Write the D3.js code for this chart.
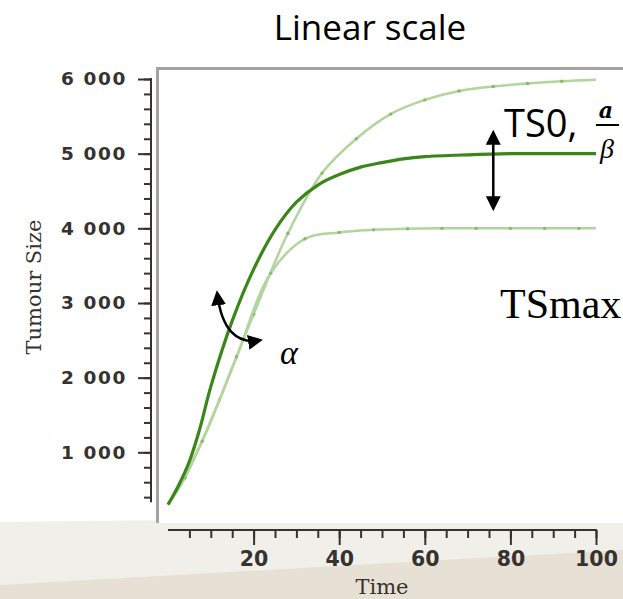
<!DOCTYPE html>
<html>
<head>
<meta charset="utf-8">
<script src="https://cdn.jsdelivr.net/npm/d3@7"></script>
<style>
  body { margin: 0; background: #fff; }
  svg { display: block; }
</style>
</head>
<body>
<svg id="chart"></svg>
<script>
// data
const darkTimes = [0, 2.5, 5, 7.5, 10, 15, 20, 25, 30, 35, 40, 45, 50, 55, 60, 70, 80, 90, 100];
const darkSizes = [300, 560, 880, 1330, 1880, 2760, 3450, 3980, 4350, 4580, 4720, 4820, 4880, 4930, 4960, 4985, 5000, 5000, 5000];

const highTimes = [0, 4, 12, 20, 28, 36, 44, 52, 60, 68, 76, 84, 92, 100];
const highSizes = [300, 660, 1700, 2850, 3930, 4740, 5200, 5530, 5720, 5840, 5900, 5940, 5970, 5990];

const lowTimes = [0, 8, 16, 24, 32, 40, 48, 56, 64, 72, 80, 88, 96, 100];
const lowSizes = [300, 1150, 2280, 3400, 3860, 3945, 3980, 3995, 4000, 4000, 4000, 4000, 4000, 4000];

const yMajorTicks = [1000, 2000, 3000, 4000, 5000, 6000];
const xMajorTicks = [20, 40, 60, 80, 100];

const width = 623, height = 599;

const svg = d3.select("#chart")
    .attr("width", width)
    .attr("height", height)
    .attr("viewBox", [0, 0, width, height]);

// background (slide-like bottom band)
svg.append("rect").attr("width", width).attr("height", height).attr("fill", "#ffffff");
svg.append("polygon").attr("points", "0,522 623,515 623,599 0,599").attr("fill", "#f1efea");
svg.append("polygon").attr("points", "0,585 623,550 623,599 0,599").attr("fill", "#e6e1d4");

// plot panel
svg.append("rect").attr("x", 157).attr("y", 68).attr("width", width - 157).attr("height", 455).attr("fill", "#fff");
svg.append("path").attr("d", "M157.5,523V68.5H623").attr("fill", "none").attr("stroke", "#a3a3a3").attr("stroke-width", 3);

// scales
const x_scale = d3.scaleLinear().domain([0, 100]).range([168, 596]);
const y_scale = d3.scaleLinear().domain([0, 6000]).range([527, 79]);

const fmt = d3.formatLocale({ decimal: ".", thousands: " ", grouping: [3], currency: ["", ""] }).format(",");
const axisColor = "#36322e";

// y axis
const gY = svg.append("g").attr("transform", "translate(151,0)");
gY.append("g")
    .call(d3.axisLeft(y_scale).tickValues(d3.range(400, 6001, 200)).tickSize(7).tickFormat(""))
    .call(g => g.select(".domain").remove());
gY.append("g")
    .call(d3.axisLeft(y_scale).tickValues(yMajorTicks).tickSize(13).tickPadding(11).tickFormat(fmt))
    .call(g => g.select(".domain").remove());
gY.append("line")
    .attr("y1", y_scale(6000) - 1).attr("y2", y_scale(330))
    .attr("stroke", axisColor).attr("stroke-width", 2);
gY.selectAll(".tick line").attr("stroke", axisColor).attr("stroke-width", 2);
gY.selectAll("text")
    .attr("fill", axisColor)
    .style("font-family", "DejaVu Sans")
    .style("font-weight", "bold")
    .style("font-size", "18.5px")
    .style("letter-spacing", "1.6px");

// x axis
const gX = svg.append("g").attr("transform", "translate(0,530)");
gX.append("g")
    .call(d3.axisBottom(x_scale).tickValues(d3.range(5, 101, 5)).tickSize(8).tickFormat(""))
    .call(g => g.select(".domain").remove());
gX.append("g")
    .call(d3.axisBottom(x_scale).tickValues(xMajorTicks).tickSize(15).tickPadding(6))
    .call(g => g.select(".domain").remove());
gX.append("line")
    .attr("x1", x_scale(0)).attr("x2", x_scale(100) + 1)
    .attr("stroke", axisColor).attr("stroke-width", 2);
gX.selectAll(".tick line").attr("stroke", axisColor).attr("stroke-width", 2);
gX.selectAll("text")
    .attr("fill", axisColor)
    .style("font-family", "DejaVu Sans")
    .style("font-weight", "bold")
    .style("font-size", "20.5px");

// axis titles
svg.append("text")
    .attr("x", 382).attr("y", 594)
    .attr("text-anchor", "middle")
    .attr("fill", axisColor)
    .style("font-family", "DejaVu Serif")
    .style("font-size", "21px")
    .text("Time");
svg.append("text")
    .attr("transform", "translate(41,287) rotate(-90)")
    .attr("text-anchor", "middle")
    .attr("fill", axisColor)
    .style("font-family", "DejaVu Serif")
    .style("font-size", "21px")
    .text("Tumour Size");

// curves
const line = d3.line()
    .x(d => x_scale(d[0]))
    .y(d => y_scale(d[1]))
    .curve(d3.curveCatmullRom.alpha(0.5));

const light = [
    d3.zip(highTimes, highSizes),
    d3.zip(lowTimes, lowSizes)
];
light.forEach(pts => {
    svg.append("path")
        .attr("d", line(pts))
        .attr("fill", "none")
        .attr("stroke", "#b2d59d")
        .attr("stroke-width", 2.5);
    svg.append("g").selectAll("circle")
        .data(pts.slice(1, -1))
        .join("circle")
        .attr("cx", d => x_scale(d[0]))
        .attr("cy", d => y_scale(d[1]))
        .attr("r", 1.7)
        .attr("fill", "#86b96a");
});

svg.append("path")
    .attr("d", line(d3.zip(darkTimes, darkSizes)))
    .attr("fill", "none")
    .attr("stroke", "#3b8619")
    .attr("stroke-width", 3.2);

// annotations
const defs = svg.append("defs");
defs.append("marker")
    .attr("id", "head")
    .attr("viewBox", "0 0 10 10")
    .attr("refX", 8).attr("refY", 5)
    .attr("markerWidth", 6).attr("markerHeight", 6)
    .attr("markerUnits", "strokeWidth")
    .attr("orient", "auto-start-reverse")
    .append("path").attr("d", "M0,0L10,5L0,10z").attr("fill", "#000");

svg.append("line")
    .attr("x1", x_scale(76)).attr("x2", x_scale(76))
    .attr("y1", y_scale(5280)).attr("y2", y_scale(4270))
    .attr("stroke", "#000").attr("stroke-width", 2.5)
    .attr("marker-start", "url(#head)").attr("marker-end", "url(#head)");

svg.append("path")
    .attr("d", `M${x_scale(11.5)},${y_scale(3130)} Q${x_scale(13)},${y_scale(2420)} ${x_scale(21.5)},${y_scale(2500)}`)
    .attr("fill", "none")
    .attr("stroke", "#000").attr("stroke-width", 2.5)
    .attr("marker-start", "url(#head)").attr("marker-end", "url(#head)");

svg.append("text")
    .attr("x", 370).attr("y", 40)
    .attr("text-anchor", "middle")
    .attr("fill", "#000")
    .style("font-family", "Open Sans")
    .style("font-size", "35px")
    .text("Linear scale");

svg.append("text")
    .attr("x", 504).attr("y", 137)
    .attr("fill", "#000")
    .style("font-family", "Open Sans")
    .style("font-size", "38px")
    .text("TS0,");

svg.append("text")
    .attr("x", 606).attr("y", 118)
    .attr("text-anchor", "middle")
    .attr("fill", "#000")
    .style("font-family", "DejaVu Serif")
    .style("font-style", "italic")
    .style("font-weight", "bold")
    .style("font-size", "22px")
    .text("a");
svg.append("line")
    .attr("x1", 596).attr("x2", 619).attr("y1", 125).attr("y2", 125)
    .attr("stroke", "#000").attr("stroke-width", 2);
svg.append("text")
    .attr("x", 607).attr("y", 158)
    .attr("text-anchor", "middle")
    .attr("fill", "#000")
    .style("font-family", "Liberation Serif")
    .style("font-style", "italic")
    .style("font-size", "28px")
    .text("β");

svg.append("text")
    .attr("x", 289).attr("y", 364)
    .attr("text-anchor", "middle")
    .attr("fill", "#000")
    .style("font-family", "Liberation Serif")
    .style("font-style", "italic")
    .style("font-size", "34px")
    .text("α");

svg.append("text")
    .attr("x", 500).attr("y", 318)
    .attr("fill", "#000")
    .style("font-family", "Liberation Serif")
    .style("font-size", "42px")
    .text("TSmax");
</script>
</body>
</html>
